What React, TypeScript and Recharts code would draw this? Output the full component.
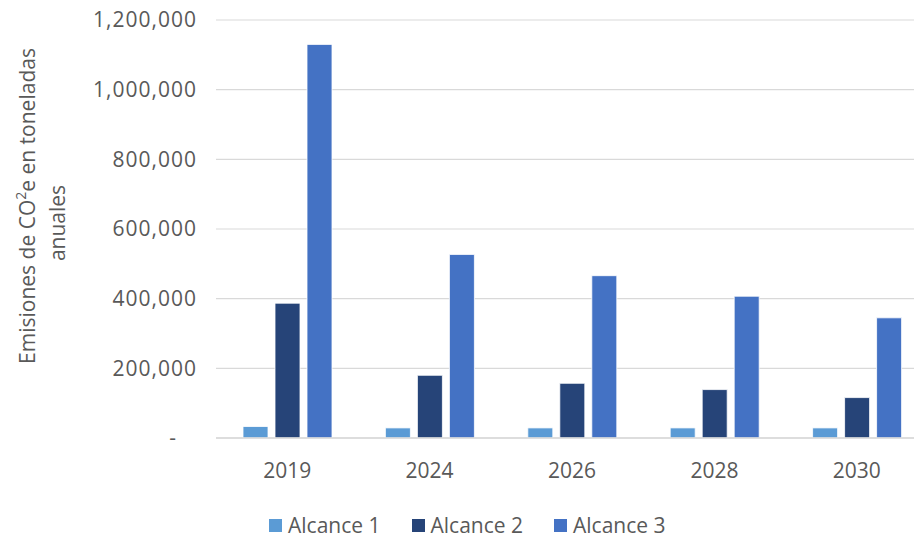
import React from 'react';
import { BarChart, Bar, XAxis, YAxis, CartesianGrid, Legend } from 'recharts';

const categories = ['2019', '2024', '2026', '2028', '2030'];
const alcance1 = [33000, 29000, 29000, 29000, 29000];
const alcance2 = [387000, 180000, 157000, 139000, 116000];
const alcance3 = [1130000, 527000, 466000, 407000, 345000];
const yTicks = [0, 200000, 400000, 600000, 800000, 1000000, 1200000];
const seriesNames = ['Alcance 1', 'Alcance 2', 'Alcance 3'];
const seriesColors = ['#5B9BD5', '#264478', '#4472C4'];

const data = categories.map((year, i) => ({
  year,
  a1: alcance1[i],
  a2: alcance2[i],
  a3: alcance3[i],
}));

const FONT = "'Open Sans', sans-serif";
const TEXT = '#595959';

const fmt = (v: number) => (v === 0 ? '-' : v.toLocaleString('en-US'));

const YTick = (props: any) => {
  const { x, y, payload } = props;
  const v = payload.value;
  return (
    <text
      x={v === 0 ? x - 21 : x}
      y={y}
      dy="0.355em"
      textAnchor="end"
      fill={TEXT}
      fontSize={21}
      fontFamily={FONT}
      letterSpacing={v === 0 ? 0 : 1}
    >
      {fmt(v)}
    </text>
  );
};

const YLabel = () => (
  <g>
    <text
      x={27}
      y={206}
      transform="rotate(-90, 27, 206)"
      textAnchor="middle"
      dominantBaseline="central"
      fill={TEXT}
      fontSize={21}
      fontFamily={FONT}
    >
      Emisiones de CO
      <tspan fontSize={14} dy={-7}>2</tspan>
      <tspan dy={7}>e en toneladas</tspan>
    </text>
    <text
      x={57}
      y={223}
      transform="rotate(-90, 57, 223)"
      textAnchor="middle"
      dominantBaseline="central"
      fill={TEXT}
      fontSize={21}
      fontFamily={FONT}
    >
      anuales
    </text>
  </g>
);

const LegendContent = () => (
  <div style={{ display: 'flex', height: 24, alignItems: 'center', paddingLeft: 269 }}>
    {seriesNames.map((name, i) => (
      <div key={name} style={{ display: 'flex', alignItems: 'center', marginRight: 31 }}>
        <span style={{ width: 13, height: 13, background: seriesColors[i], display: 'inline-block', marginRight: 6 }} />
        <span style={{ fontFamily: FONT, fontSize: 21, lineHeight: '24px', color: TEXT }}>{name}</span>
      </div>
    ))}
  </div>
);

export default function App() {
  return (
    <div style={{ position: 'absolute', left: 0, top: 0, width: 914, height: 539, overflow: 'hidden', background: '#fff' }}>
      <BarChart
        width={930}
        height={539}
        data={data}
        margin={{ top: 20, right: 2, left: 0, bottom: 0 }}
        barGap={7}
      >
        <CartesianGrid vertical={false} stroke="#D9D9D9" strokeWidth={1.2} />
        <XAxis
          dataKey="year"
          tickLine={false}
          tickSize={0}
          tickMargin={25}
          height={77}
          axisLine={{ stroke: '#D9D9D9', strokeWidth: 1.5 }}
          tick={{ fill: TEXT, fontSize: 21, fontFamily: FONT }}
        />
        <YAxis
          width={216}
          domain={[0, 1200000]}
          ticks={yTicks}
          interval={0}
          axisLine={false}
          tickLine={false}
          tickSize={0}
          tickMargin={19}
          tick={<YTick />}
          label={{ content: () => <YLabel /> }}
        />
        <Legend
          verticalAlign="bottom"
          content={() => <LegendContent />}
          wrapperStyle={{ left: 0, top: 513, width: 930, height: 24 }}
        />
        <Bar dataKey="a1" name={seriesNames[0]} fill={seriesColors[0]} stroke="#ffffff" strokeWidth={0.8} barSize={25} isAnimationActive={false} />
        <Bar dataKey="a2" name={seriesNames[1]} fill={seriesColors[1]} stroke="#ffffff" strokeWidth={0.8} barSize={25} isAnimationActive={false} />
        <Bar dataKey="a3" name={seriesNames[2]} fill={seriesColors[2]} stroke="#ffffff" strokeWidth={0.8} barSize={25} isAnimationActive={false} />
      </BarChart>
    </div>
  );
}
